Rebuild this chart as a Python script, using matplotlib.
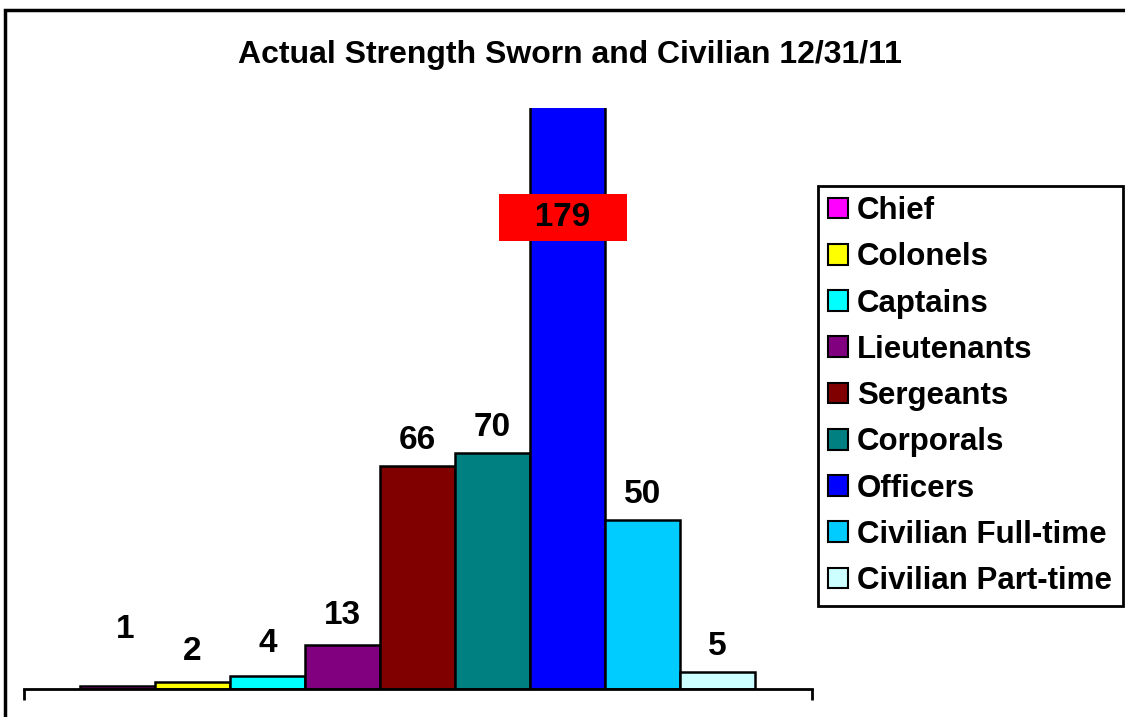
import matplotlib.pyplot as plt
from matplotlib.patches import Patch, Rectangle

plt.rcParams['font.family'] = ['Liberation Sans', 'DejaVu Sans']
plt.rcParams['font.weight'] = 'bold'

ranks = ['Chief', 'Colonels', 'Captains', 'Lieutenants', 'Sergeants',
         'Corporals', 'Officers', 'Civilian Full-time', 'Civilian Part-time']
counts = [1, 2, 4, 13, 66, 70, 179, 50, 5]
colors = ['#ff00ff', '#ffff00', '#00ffff', '#800080', '#800000',
          '#008080', '#0000ff', '#00ccff', '#ccffff']

fig = plt.figure(figsize=(11.25, 7.17), dpi=100)
ax = fig.add_axes([0.0213, 0.039, 0.7005, 0.8105])

for i, (n, c) in enumerate(zip(counts, colors)):
    ax.bar(i, n, width=1, align='edge', color=c, edgecolor='black', linewidth=1.8)

ax.set_xlim(-0.75, 9.76)
ax.set_ylim(0, 172)
for s in ['top', 'left', 'right']:
    ax.spines[s].set_visible(False)
ax.spines['bottom'].set_linewidth(2)
ax.set_xticks([])
ax.set_yticks([])
# end ticks hanging below the baseline
for x in ax.get_xlim():
    ax.plot([x, x], [0, -3.3], color='black', lw=2, clip_on=False, solid_capstyle='butt')

# value labels, a few nudged the way the sheet had them
nudge = {0: (0.1, 16.5), 1: (0, 9), 2: (0, 9.6), 3: (0, 8.9)}
for i, n in enumerate(counts):
    dx, dy = nudge.get(i, (0, 7.5))
    if n > ax.get_ylim()[1]:
        # bar runs off the top, so its value sits in a red box inside the bar
        ax.text(i + 0.437, 139.6, '\u00a0\u00a0\u00a0' + str(n) + '\u00a0\u00a0\u00a0',
                ha='center', va='center', fontsize=24, fontweight='bold',
                bbox=dict(boxstyle='square,pad=0.25', fc='#ff0000', ec='none'))
    else:
        ax.text(i + 0.5 + dx, n + dy, str(n), ha='center', va='center',
                fontsize=24, fontweight='bold')

fig.text(0.5067, 0.923, 'Actual Strength Sworn and Civilian 12/31/11',
         ha='center', va='center', fontsize=23, fontweight='bold')

handles = [Patch(facecolor=c, edgecolor='black', linewidth=1.5) for c in colors]
leg = fig.legend(handles, ranks, loc='upper left', bbox_to_anchor=(0.727, 0.741),
                 fontsize=22.5, frameon=True, fancybox=False, framealpha=1,
                 handlelength=0.64, handleheight=0.64, handletextpad=0.29,
                 labelspacing=0.52, borderpad=0.33, borderaxespad=0)
leg.get_frame().set_edgecolor('black')
leg.get_frame().set_linewidth(2)

fig.patches.append(Rectangle((0.0045, -0.05), 1.1, 1.036, transform=fig.transFigure,
                             fill=False, ec='black', lw=2.5))

fig.savefig('out.png', dpi=100)
